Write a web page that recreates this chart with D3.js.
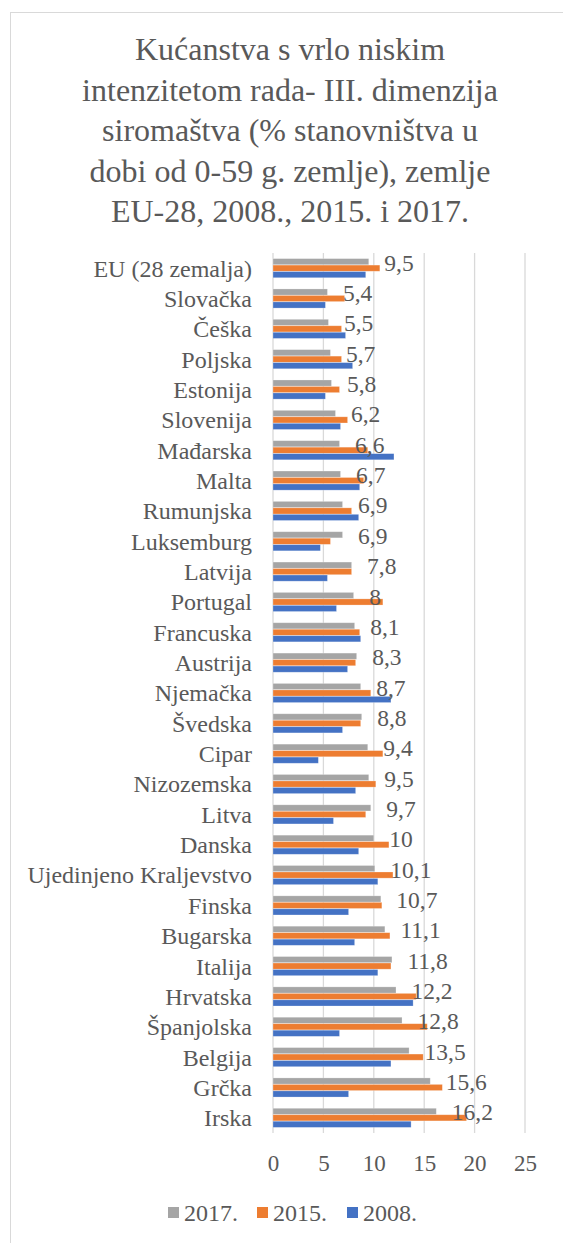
<!DOCTYPE html>
<html>
<head>
<meta charset="utf-8">
<script src="https://cdnjs.cloudflare.com/ajax/libs/d3/7.8.5/d3.min.js"></script>
<style>
  body { margin: 0; background: #fff; }
  svg text { font-family: "Liberation Serif", "Tinos", "Times New Roman", "DejaVu Serif", serif; fill: #595959; }
</style>
</head>
<body>
<svg id="chart" width="563" height="1243"></svg>
<script>
var titleLines = ["Kućanstva s vrlo niskim", "intenzitetom rada- III. dimenzija", "siromaštva (% stanovništva u", "dobi od 0-59 g. zemlje), zemlje", "EU-28, 2008., 2015. i 2017."];

var countries = ["EU (28 zemalja)", "Slovačka", "Češka", "Poljska", "Estonija", "Slovenija", "Mađarska", "Malta", "Rumunjska", "Luksemburg", "Latvija", "Portugal", "Francuska", "Austrija", "Njemačka", "Švedska", "Cipar", "Nizozemska", "Litva", "Danska", "Ujedinjeno Kraljevstvo", "Finska", "Bugarska", "Italija", "Hrvatska", "Španjolska", "Belgija", "Grčka", "Irska"];

var seriesNames = ["2017.", "2015.", "2008."];
var seriesColors = ["#A5A5A5", "#ED7D31", "#4472C4"];

var values2017 = [9.5, 5.4, 5.5, 5.7, 5.8, 6.2, 6.6, 6.7, 6.9, 6.9, 7.8, 8, 8.1, 8.3, 8.7, 8.8, 9.4, 9.5, 9.7, 10, 10.1, 10.7, 11.1, 11.8, 12.2, 12.8, 13.5, 15.6, 16.2];
var values2015 = [10.6, 7.1, 6.8, 6.8, 6.6, 7.4, 9.4, 9.0, 7.8, 5.7, 7.8, 10.9, 8.6, 8.2, 9.7, 8.7, 10.9, 10.2, 9.2, 11.5, 11.9, 10.8, 11.6, 11.7, 14.2, 15.3, 14.9, 16.8, 19.2];
var values2008 = [9.2, 5.2, 7.2, 7.9, 5.2, 6.7, 12.0, 8.6, 8.5, 4.7, 5.4, 6.3, 8.7, 7.4, 11.7, 6.9, 4.5, 8.2, 6.0, 8.5, 10.4, 7.5, 8.1, 10.4, 13.9, 6.6, 11.7, 7.5, 13.7];

var xTicks = [0, 5, 10, 15, 20, 25];

var seriesValues = [values2017, values2015, values2008];

var svg = d3.select("#chart");
var plot = { left: 273, right: 525, top: 253, bottom: 1133 };

// chart frame (runs past the right/bottom edge like in the source)
svg.append("rect")
    .attr("x", 10.5).attr("y", 12.5)
    .attr("width", 600).attr("height", 1300)
    .attr("fill", "#fff")
    .attr("stroke", "#d9d9d9");

svg.append("g").selectAll("text")
    .data(titleLines)
    .join("text")
    .attr("x", 290)
    .attr("y", (d, i) => 60 + i * 40.5)
    .attr("text-anchor", "middle")
    .style("font-size", "32px")
    .text(d => d);

var x = d3.scaleLinear()
    .domain([0, 25])
    .range([plot.left, plot.right]);

var y = d3.scaleBand()
    .domain(countries)
    .range([plot.top, plot.bottom])
    .paddingInner(0.37)
    .paddingOuter(0.185);

var ySub = d3.scaleBand()
    .domain(seriesNames)
    .range([0, y.bandwidth()])
    .paddingInner(0.05);

// gridlines
svg.append("g").selectAll("line")
    .data(xTicks)
    .join("line")
    .attr("x1", d => x(d)).attr("x2", d => x(d))
    .attr("y1", plot.top).attr("y2", plot.bottom)
    .attr("stroke", "#d9d9d9")
    .attr("stroke-width", 1.3);

// x axis labels
var xAxis = svg.append("g")
    .attr("transform", `translate(0, ${plot.bottom})`)
    .call(d3.axisBottom(x).tickValues(xTicks).tickSize(0).tickPadding(22));
xAxis.attr("font-family", null);
xAxis.select(".domain").remove();
xAxis.selectAll("text")
    .attr("fill", "#595959")
    .style("font-size", "23px");

// category labels
var yAxis = svg.append("g")
    .attr("transform", `translate(${plot.left - 21}, 0)`)
    .call(d3.axisLeft(y).tickSize(0).tickPadding(0));
yAxis.attr("font-family", null);
yAxis.select(".domain").remove();
yAxis.selectAll("text")
    .attr("fill", "#595959")
    .attr("dy", "0.35em")
    .style("font-size", "24px");

// bars
var rows = countries.map((c, i) => ({ country: c, vals: seriesValues.map((s, j) => ({ name: seriesNames[j], color: seriesColors[j], value: s[i] })) }));

var groups = svg.append("g").selectAll("g")
    .data(rows)
    .join("g")
    .attr("transform", d => `translate(0, ${y(d.country)})`);

groups.selectAll("rect")
    .data(d => d.vals)
    .join("rect")
    .attr("x", x(0))
    .attr("y", d => ySub(d.name))
    .attr("width", d => x(d.value) - x(0))
    .attr("height", ySub.bandwidth())
    .attr("fill", d => d.color)
    .attr("stroke", "#fff")
    .attr("stroke-opacity", 0.35)
    .attr("stroke-width", 0.7);

// data labels for 2017
var fmt = v => String(v).replace(".", ",");
groups.append("text")
    .attr("x", d => x(d.vals[0].value) + 15.5)
    .attr("y", ySub("2017.") + ySub.bandwidth() / 2 + 9)
    .style("font-size", "23.5px")
    .text(d => fmt(d.vals[0].value));

// legend
var legendX = [168, 257, 347];
var legend = svg.append("g").selectAll("g")
    .data(seriesNames)
    .join("g")
    .attr("transform", (d, i) => `translate(${legendX[i]}, 1213)`);
legend.append("rect")
    .attr("x", 0).attr("y", -6)
    .attr("width", 11).attr("height", 11)
    .attr("fill", (d, i) => seriesColors[i]);
legend.append("text")
    .attr("x", 16).attr("y", 8)
    .style("font-size", "24px")
    .text(d => d);
</script>
</body>
</html>
